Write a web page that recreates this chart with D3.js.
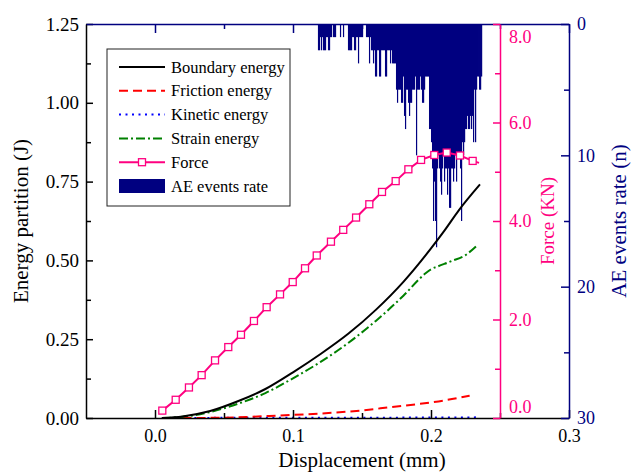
<!DOCTYPE html>
<html>
<head>
<meta charset="utf-8">
<script src="https://cdn.jsdelivr.net/npm/d3@7"></script>
<style>
  html, body { margin: 0; padding: 0; background: #fff; }
  svg text { font-family: "Liberation Serif", "Times New Roman", Times, serif; }
</style>
</head>
<body>
<svg id="chart" width="631" height="474"></svg>
<script>
// ---- Tick values ----
const xTickValues = [0.0, 0.1, 0.2, 0.3];
const xMinorTicks = [0.05, 0.15, 0.25];
const energyTickValues = [0, 0.25, 0.5, 0.75, 1.0, 1.25];
const energyMinorTicks = [0.125, 0.375, 0.625, 0.875, 1.125];
const forceTickValues = [0, 2, 4, 6, 8];
const forceMinorTicks = [1, 3, 5, 7];
const aeTickValues = [0, 10, 20, 30];
const aeMinorTicks = [5, 15, 25];

// ---- Energy partition (J) vs displacement (mm) ----
const boundaryDisp   = [0.005, 0.02, 0.04, 0.06, 0.08, 0.10, 0.12, 0.14, 0.16, 0.18, 0.20, 0.21, 0.22, 0.2355];
const boundaryEnergy = [0.000, 0.005, 0.022, 0.053, 0.092, 0.145, 0.203, 0.267, 0.343, 0.432, 0.538, 0.596, 0.658, 0.741];

const frictionDisp   = [0.02, 0.05, 0.07, 0.09, 0.11, 0.13, 0.15, 0.17, 0.19, 0.21, 0.228];
const frictionEnergy = [0.000, 0.001, 0.004, 0.008, 0.012, 0.017, 0.024, 0.034, 0.044, 0.056, 0.071];

const kineticDisp   = [0.005, 0.05, 0.10, 0.15, 0.20, 0.233];
const kineticEnergy = [0.000, 0.0005, 0.001, 0.001, 0.0015, 0.002];

const strainDisp   = [0.005, 0.02, 0.04, 0.06, 0.08, 0.10, 0.12, 0.14, 0.16, 0.18, 0.195, 0.200, 0.205, 0.215, 0.225, 0.233];
const strainEnergy = [0.000, 0.004, 0.019, 0.045, 0.079, 0.126, 0.178, 0.238, 0.308, 0.388, 0.455, 0.472, 0.481, 0.498, 0.517, 0.546];

// ---- Force (KN) vs displacement (mm) ----
const forceDisp = [0.0053, 0.0150, 0.0246, 0.0338, 0.0435, 0.0531, 0.0623, 0.0717, 0.0809, 0.0906,
                   0.0998, 0.1087, 0.1172, 0.1275, 0.1364, 0.1457, 0.1553, 0.1645, 0.1744, 0.1836,
                   0.1928, 0.2024, 0.2114, 0.2210, 0.2302, 0.2348];
const forceKN   = [0.15, 0.37, 0.62, 0.87, 1.17, 1.44, 1.69, 1.97, 2.25, 2.51,
                   2.76, 3.04, 3.30, 3.58, 3.82, 4.07, 4.34, 4.59, 4.81, 5.05,
                   5.24, 5.34, 5.39, 5.33, 5.22, 5.18];

// ---- AE events rate (n): counts sampled from displacement aeStart in steps of aeStep ----
const aeStart = 0.1185;
const aeStep = 0.000725;
const aeCounts = [
  2,2,1,2,1,2,2,2,1,1,
  2,2,1,1,0,1,1,1,0,0,
  0,0,1,0,0,1,0,0,0,0,
  2,2,2,2,1,1,2,2,1,1,
  3,1,1,1,1,0,0,0,1,1,
  1,3,1,2,2,3,2,4,4,2,
  2,4,4,2,2,2,2,4,4,2,
  2,2,3,2,3,3,3,3,5,6,
  5,5,5,6,6,4,7,8,5,5,
  6,7,6,6,5,5,5,4,10,5,
  5,5,4,5,6,6,5,4,4,4,
  4,8,8,9,11,15,12,15,17,11,
  10,11,12,13,11,10,12,11,11,13,
  11,14,14,11,11,12,11,10,12,10,
  10,10,11,15,9,10,9,8,8,7,
  8,8,7,8,7,9,5,9,5,4,
  4,5,5,4
];

const legendLabels = ["Boundary energy", "Friction energy", "Kinetic energy", "Strain energy", "Force", "AE events rate"];

// ---- Colours ----
const NAVY = "#000080";
const PINK = "#ff0080";

// ---- Frame & scales ----
const svg = d3.select("#chart");
const plotLeft = 86, plotRight = 569, plotTop = 24, plotBottom = 418;

const x   = d3.scaleLinear().domain([-0.05, 0.3]).range([plotLeft, plotRight]);
const yE  = d3.scaleLinear().domain([0, 1.25]).range([plotBottom, plotTop]);
const yF  = d3.scaleLinear().domain([0, 8]).range([plotBottom, plotTop]);
const yAE = d3.scaleLinear().domain([0, 30]).range([plotTop, plotBottom]);
const forceAxisX = x(0.25);

// ---- AE event bars hanging from the top ----
svg.append("g")
  .selectAll("rect")
  .data(aeCounts)
  .join("rect")
  .attr("x", (d, i) => x(aeStart + i * aeStep) - 0.6)
  .attr("y", yAE(0))
  .attr("width", 1.2)
  .attr("height", d => yAE(d) - yAE(0))
  .attr("fill", NAVY);

// ---- Energy curves ----
function energyLine() {
  return d3.line().x(d => x(d[0])).y(d => yE(d[1])).curve(d3.curveMonotoneX);
}
const series = [
  { xs: kineticDisp,  ys: kineticEnergy,  color: "#0000ff", dash: "2,4.5", w: 2 },
  { xs: frictionDisp, ys: frictionEnergy, color: "#ff0000", dash: "9,5",   w: 2 },
  { xs: strainDisp,   ys: strainEnergy,   color: "#008000", dash: "9,3,2,3", w: 2 },
  { xs: boundaryDisp, ys: boundaryEnergy, color: "#000000", dash: null,    w: 2 }
];
series.forEach(s => {
  svg.append("path")
    .datum(s.xs.map((v, i) => [v, s.ys[i]]))
    .attr("d", energyLine())
    .attr("fill", "none")
    .attr("stroke", s.color)
    .attr("stroke-width", s.w)
    .attr("stroke-dasharray", s.dash);
});

// ---- Force curve with square markers ----
const forcePts = forceDisp.map((v, i) => [v, forceKN[i]]);
svg.append("path")
  .datum(forcePts)
  .attr("d", d3.line().x(d => x(d[0])).y(d => yF(d[1])))
  .attr("fill", "none")
  .attr("stroke", PINK)
  .attr("stroke-width", 2);
const marker = 7;
svg.append("g")
  .selectAll("rect")
  .data(forcePts.slice(0, forcePts.length - 1))
  .join("rect")
  .attr("x", d => x(d[0]) - marker / 2)
  .attr("y", d => yF(d[1]) - marker / 2)
  .attr("width", marker)
  .attr("height", marker)
  .attr("fill", "#fff")
  .attr("stroke", PINK)
  .attr("stroke-width", 1.3);

// ---- Axes ----
function styleAxis(g, color, fontSize) {
  g.select(".domain").attr("stroke", color).attr("stroke-width", 1.5);
  g.selectAll(".tick line").attr("stroke", color).attr("stroke-width", 1.5);
  g.selectAll(".tick text").attr("fill", color).attr("font-size", fontSize)
    .attr("font-family", "'Liberation Serif','Times New Roman',serif");
}

// bottom
const gx = svg.append("g").attr("transform", `translate(0,${plotBottom})`)
  .call(d3.axisBottom(x).tickValues(xTickValues).tickFormat(d3.format(".1f"))
    .tickSizeInner(-8).tickSizeOuter(0).tickPadding(11));
styleAxis(gx, "#000", 18);
const gxm = svg.append("g").attr("transform", `translate(0,${plotBottom})`)
  .call(d3.axisBottom(x).tickValues(xMinorTicks).tickFormat("").tickSizeInner(-5).tickSizeOuter(0));
gxm.select(".domain").remove();
styleAxis(gxm, "#000", 18);

// left
const gy = svg.append("g").attr("transform", `translate(${plotLeft},0)`)
  .call(d3.axisLeft(yE).tickValues(energyTickValues).tickFormat(d3.format(".2f"))
    .tickSizeInner(-7).tickSizeOuter(0).tickPadding(7));
styleAxis(gy, "#000", 19);
const gym = svg.append("g").attr("transform", `translate(${plotLeft},0)`)
  .call(d3.axisLeft(yE).tickValues(energyMinorTicks).tickFormat("").tickSizeInner(-5).tickSizeOuter(0));
gym.select(".domain").remove();
styleAxis(gym, "#000", 19);

// top
const gt = svg.append("g").attr("transform", `translate(0,${plotTop})`)
  .call(d3.axisTop(x).tickValues(xTickValues).tickFormat("").tickSizeInner(-9).tickSizeOuter(0));
styleAxis(gt, NAVY, 18);
const gtm = svg.append("g").attr("transform", `translate(0,${plotTop})`)
  .call(d3.axisTop(x).tickValues(xMinorTicks).tickFormat("").tickSizeInner(-5).tickSizeOuter(0));
gtm.select(".domain").remove();
styleAxis(gtm, NAVY, 18);

// force axis
const gf = svg.append("g").attr("transform", `translate(${forceAxisX},0)`)
  .call(d3.axisRight(yF).tickValues(forceTickValues).tickFormat(d3.format(".1f"))
    .tickSizeInner(-7).tickSizeOuter(0).tickPadding(9));
styleAxis(gf, PINK, 18);
gf.selectAll(".tick text")
  .attr("dy", d => d === 8 ? "1.05em" : d === 0 ? "-0.3em" : "0.32em");
const gfm = svg.append("g").attr("transform", `translate(${forceAxisX},0)`)
  .call(d3.axisRight(yF).tickValues(forceMinorTicks).tickFormat("").tickSizeInner(-5).tickSizeOuter(0));
gfm.select(".domain").remove();
styleAxis(gfm, PINK, 18);

// AE axis
const ga = svg.append("g").attr("transform", `translate(${plotRight},0)`)
  .call(d3.axisRight(yAE).tickValues(aeTickValues).tickFormat(d3.format("d"))
    .tickSizeInner(-8).tickSizeOuter(0).tickPadding(8));
styleAxis(ga, NAVY, 18);
const gam = svg.append("g").attr("transform", `translate(${plotRight},0)`)
  .call(d3.axisRight(yAE).tickValues(aeMinorTicks).tickFormat("").tickSizeInner(-5).tickSizeOuter(0));
gam.select(".domain").remove();
styleAxis(gam, NAVY, 18);

// ---- Axis titles ----
const midY = (plotTop + plotBottom) / 2;
svg.append("text")
  .attr("x", (x(0) + x(0.3)) / 2).attr("y", 460)
  .attr("text-anchor", "middle").attr("dominant-baseline", "central")
  .attr("font-size", 21).attr("fill", "#000")
  .text("Displacement (mm)");
svg.append("text")
  .attr("transform", `translate(21,${midY}) rotate(-90)`)
  .attr("text-anchor", "middle").attr("dominant-baseline", "central")
  .attr("font-size", 21).attr("fill", "#000")
  .text("Energy partition (J)");
svg.append("text")
  .attr("transform", `translate(547,${midY}) rotate(-90)`)
  .attr("text-anchor", "middle").attr("dominant-baseline", "central")
  .attr("font-size", 19).attr("fill", PINK)
  .text("Force (KN)");
svg.append("text")
  .attr("transform", `translate(619,${midY}) rotate(-90)`)
  .attr("text-anchor", "middle").attr("dominant-baseline", "central")
  .attr("font-size", 21).attr("fill", NAVY)
  .text("AE events rate (n)");

// ---- Legend ----
const lg = svg.append("g").attr("transform", "translate(107,49)");
lg.append("rect").attr("width", 183).attr("height", 157)
  .attr("fill", "#fff").attr("stroke", "#222").attr("stroke-width", 1);
const rowY = i => 18 + i * 23.8;
const lx1 = 12, lx2 = 58, tx = 64;
const legendStyles = [
  { color: "#000000", dash: null },
  { color: "#ff0000", dash: "9,5" },
  { color: "#0000ff", dash: "2,4.5" },
  { color: "#008000", dash: "9,3,2,3" }
];
legendStyles.forEach((s, i) => {
  lg.append("line").attr("x1", lx1).attr("x2", lx2).attr("y1", rowY(i)).attr("y2", rowY(i))
    .attr("stroke", s.color).attr("stroke-width", 2).attr("stroke-dasharray", s.dash);
});
lg.append("line").attr("x1", lx1).attr("x2", lx2).attr("y1", rowY(4)).attr("y2", rowY(4))
  .attr("stroke", PINK).attr("stroke-width", 2);
lg.append("rect").attr("x", (lx1 + lx2) / 2 - marker / 2).attr("y", rowY(4) - marker / 2)
  .attr("width", marker).attr("height", marker)
  .attr("fill", "#fff").attr("stroke", PINK).attr("stroke-width", 1.3);
lg.append("rect").attr("x", lx1).attr("y", rowY(5) - 7).attr("width", lx2 - lx1).attr("height", 14)
  .attr("fill", NAVY);
legendLabels.forEach((t, i) => {
  lg.append("text").attr("x", tx).attr("y", rowY(i))
    .attr("dominant-baseline", "central")
    .attr("font-size", 16.5).attr("fill", "#000")
    .text(t);
});
</script>
</body>
</html>
